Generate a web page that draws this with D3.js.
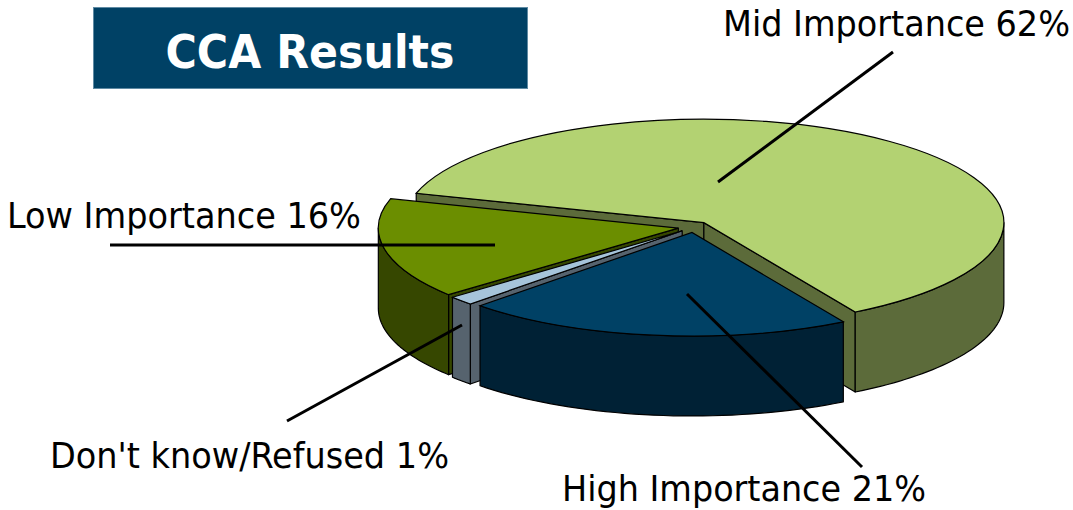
<!DOCTYPE html>
<html>
<head>
<meta charset="utf-8">
<script src="https://cdn.jsdelivr.net/npm/d3@7"></script>
<style>
html,body{margin:0;padding:0;background:#fff}
svg{display:block}
</style>
</head>
<body>
<svg id="chart" width="1073" height="510"></svg>
<script>
// Data (slice sizes; labels show them rounded)
const categories = ["Mid Importance", "High Importance", "Don't know/Refused", "Low Importance"];
const shares = [62.0, 20.9, 1.4, 15.7];
const topColors = ["#b3d272", "#004165", "#a6c4da", "#6b8e00"];
const sideColors = ["#5c6b3a", "#002135", "#56636e", "#364700"];
const titleText = "CCA Results";

// Layout
const W = 1073, H = 510;
const center = [694, 227], radius = 300, tilt = 0.345, depth = 80, explode = 16;
const firstAngle = 286.5 * Math.PI / 180;
const paintOrder = [0, 3, 2, 1];
const labelX = [723, 562, 50, 7];
const labelY = [36, 501, 468, 228];
const labelW = [347, 364, 399, 354];
const leaders = [
  [[893, 52], [718, 182]],
  [[862, 467], [687, 294]],
  [[287, 421], [462, 325]],
  [[110, 245], [495, 245]]
];

const svg = d3.select("#chart");
svg.append("rect").attr("width", W).attr("height", H).attr("fill", "#fff");

const pie = d3.pie().sort(null).startAngle(firstAngle).endAngle(firstAngle + 2 * Math.PI);
const arcs = pie(shares);
const arcGen = d3.arc().innerRadius(0).outerRadius(radius);
const line = d3.line();
const TAU = 2 * Math.PI;

function frame(d) {
  const mid = (d.startAngle + d.endAngle) / 2;
  const ox = center[0] + explode * Math.sin(mid);
  const oy = center[1] - explode * Math.cos(mid) * tilt;
  const pt = (a, drop = 0) => [ox + radius * Math.sin(a), oy - radius * Math.cos(a) * tilt + drop];
  return { ox, oy, pt };
}

function rimPath(d, f) {
  // Only the near half of the cylinder (90 to 270 degrees) shows
  const k = Math.floor((d.startAngle - Math.PI / 2) / TAU);
  let parts = [];
  for (const n of [k, k + 1]) {
    const a0 = Math.max(d.startAngle, Math.PI / 2 + n * TAU);
    const a1 = Math.min(d.endAngle, 3 * Math.PI / 2 + n * TAU);
    if (a1 > a0) parts.push([a0, a1]);
  }
  return parts.map(([a0, a1]) => {
    const steps = d3.range(0, 41).map(i => a0 + (a1 - a0) * i / 40);
    const top = steps.map(a => f.pt(a));
    const bottom = steps.slice().reverse().map(a => f.pt(a, depth));
    return line(top.concat(bottom)) + "Z";
  }).join("");
}

function wallPath(f, a) {
  return line([[f.ox, f.oy], f.pt(a), f.pt(a, depth), [f.ox, f.oy + depth]]) + "Z";
}

paintOrder.forEach(i => {
  const d = arcs[i], f = frame(d);
  const g = svg.append("g").attr("class", "slice");
  const sideStyle = s => s.attr("fill", sideColors[i]).attr("stroke", "#000").attr("stroke-width", 1.2).attr("stroke-linejoin", "round");
  // Walls that turn toward the viewer
  [d.startAngle, d.endAngle].forEach(a => {
    const isStart = a === d.startAngle;
    const normal = a + (isStart ? -Math.PI / 2 : Math.PI / 2);
    if (-Math.cos(normal) > 0) g.append("path").attr("d", wallPath(f, a)).call(sideStyle);
  });
  g.append("path").attr("d", rimPath(d, f)).call(sideStyle);
  g.append("path")
    .attr("d", arcGen(d))
    .attr("transform", `translate(${f.ox},${f.oy}) scale(1,${tilt})`)
    .attr("fill", topColors[i])
    .attr("stroke", "#000")
    .attr("stroke-width", 1.2)
    .attr("vector-effect", "non-scaling-stroke");
});

// Title box
svg.append("rect").attr("x", 93.5).attr("y", 7.5).attr("width", 434).attr("height", 81)
  .attr("fill", "#004165").attr("stroke", "#5f8aa3").attr("stroke-width", 1);
svg.append("text").attr("x", 310).attr("y", 68).attr("text-anchor", "middle")
  .attr("font-family", "'DejaVu Sans', sans-serif").attr("font-weight", "bold").attr("font-size", 46)
  .attr("textLength", 289).attr("lengthAdjust", "spacingAndGlyphs")
  .attr("fill", "#fff").text(titleText);

// Leader lines
svg.append("g").selectAll("line").data(leaders).join("line")
  .attr("x1", d => d[0][0]).attr("y1", d => d[0][1])
  .attr("x2", d => d[1][0]).attr("y2", d => d[1][1])
  .attr("stroke", "#000").attr("stroke-width", 3);

// Labels
svg.append("g").selectAll("text").data(categories).join("text")
  .attr("x", (d, i) => labelX[i]).attr("y", (d, i) => labelY[i])
  .attr("font-family", "'DejaVu Sans Condensed', 'DejaVu Sans', sans-serif").attr("font-size", 35)
  .attr("textLength", (d, i) => labelW[i]).attr("lengthAdjust", "spacingAndGlyphs")
  .attr("fill", "#000")
  .text((d, i) => `${d} ${Math.round(shares[i])}%`);
</script>
</body>
</html>
